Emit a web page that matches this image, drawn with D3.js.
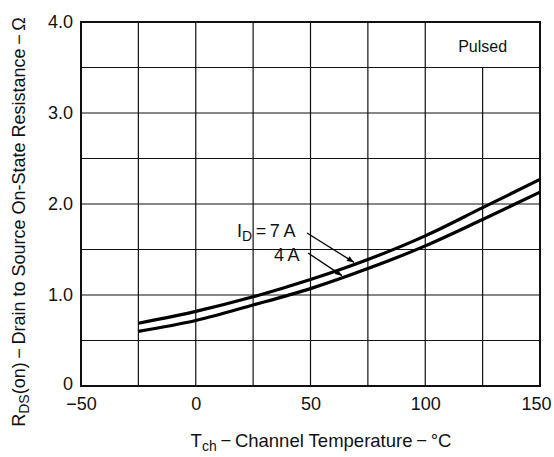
<!DOCTYPE html>
<html>
<head>
<meta charset="utf-8">
<script src="https://cdn.jsdelivr.net/npm/d3@7"></script>
<style>
  body { margin: 0; background: #fff; }
  svg text { font-family: "Liberation Sans", Arial, sans-serif; fill: #111; }
</style>
</head>
<body>
<svg id="chart" width="554" height="457"></svg>
<script>
// Channel temperature (°C) and on-state resistance (Ω)
const temps = [-25, 0, 25, 50, 75, 100, 125, 150];
const rds7A = [0.69, 0.82, 0.98, 1.17, 1.39, 1.65, 1.96, 2.27];
const rds4A = [0.60, 0.72, 0.89, 1.07, 1.29, 1.54, 1.83, 2.13];

const xTicks = [-50, 0, 50, 100, 150];
const yTicks = [0, 1, 2, 3, 4];
const yTickLabels = ["0", "1.0", "2.0", "3.0", "4.0"];

const svg = d3.select("#chart");
const M = { left: 81, right: 540, top: 22, bottom: 386 };

const x = d3.scaleLinear().domain([-50, 150]).range([M.left, M.right]);
const y = d3.scaleLinear().domain([0, 4]).range([M.bottom, M.top]);

// ── Grid ─────────────────────────────────────────
const grid = svg.append("g").attr("stroke", "#111").attr("stroke-width", 1.2);

d3.range(-25, 150, 25).forEach((t) => {
  grid.append("line")
    .attr("x1", x(t)).attr("x2", x(t))
    .attr("y1", t === 125 ? y(3.5) : y(4)).attr("y2", y(0));
});
d3.range(0.5, 4, 0.5).forEach((v) => {
  grid.append("line")
    .attr("x1", x(-50)).attr("x2", x(150))
    .attr("y1", y(v)).attr("y2", y(v));
});

// frame
svg.append("rect")
  .attr("x", x(-50)).attr("y", y(4))
  .attr("width", x(150) - x(-50)).attr("height", y(0) - y(4))
  .attr("fill", "none").attr("stroke", "#111").attr("stroke-width", 2);

// ── Axes ─────────────────────────────────────────
const xAxis = d3.axisBottom(x).tickValues(xTicks).tickSize(0).tickPadding(11)
  .tickFormat((d) => d < 0 ? "\u2212" + Math.abs(d) : d);
svg.append("g").attr("transform", `translate(0,${M.bottom})`).call(xAxis)
  .call((g) => g.select(".domain").remove())
  .selectAll("text").attr("font-size", 18).attr("fill", "#111")
  .attr("text-anchor", (d) => d === 150 ? "end" : "middle")
  .attr("dx", (d) => d === 150 ? 11 : 0)
  .style("font-family", "'Liberation Sans', Arial, sans-serif");

const yAxis = d3.axisLeft(y).tickValues(yTicks).tickSize(0).tickPadding(8)
  .tickFormat((d, i) => yTickLabels[i]);
svg.append("g").attr("transform", `translate(${M.left},0)`).call(yAxis)
  .call((g) => g.select(".domain").remove())
  .selectAll("text").attr("font-size", 18).attr("fill", "#111")
  .attr("dy", (d) => d === 0 ? "0.2em" : "0.32em")
  .style("font-family", "'Liberation Sans', Arial, sans-serif");

// ── Curves ───────────────────────────────────────
const line = d3.line()
  .x((d) => x(d[0]))
  .y((d) => y(d[1]))
  .curve(d3.curveMonotoneX);

[rds7A, rds4A].forEach((vals) => {
  svg.append("path")
    .datum(temps.map((t, i) => [t, vals[i]]))
    .attr("d", line)
    .attr("fill", "none")
    .attr("stroke", "#000")
    .attr("stroke-width", 3.2);
});

// ── Labels ───────────────────────────────────────
svg.append("text")
  .attr("x", x(125)).attr("y", 52)
  .attr("text-anchor", "middle").attr("font-size", 16)
  .text("Pulsed");

const lbl = svg.append("text").attr("x", 237).attr("y", 237).attr("font-size", 18);
lbl.append("tspan").text("I");
lbl.append("tspan").attr("font-size", 14).attr("dy", 4).text("D");
lbl.append("tspan").attr("dy", -4).text("\u2009=\u20097\u2009A");

svg.append("text").attr("x", 274).attr("y", 261).attr("font-size", 18).text("4\u2009A");

svg.append("defs").append("marker")
  .attr("id", "arrow")
  .attr("viewBox", "0 -5 10 10")
  .attr("refX", 10).attr("refY", 0)
  .attr("markerWidth", 9).attr("markerHeight", 7)
  .attr("markerUnits", "userSpaceOnUse")
  .attr("orient", "auto")
  .append("path")
  .attr("d", "M0,-4L10,0L0,4Z")
  .attr("fill", "#000");

// arrows point at the curves
const arrows = [
  { vals: rds7A, x1: 307, y1: 233, dx: 47 },
  { vals: rds4A, x1: 308, y1: 253, dx: 34 },
];
arrows.forEach((a) => {
  const t = x.invert(a.x1 + a.dx);
  const yy = y(d3.scaleLinear().domain(temps).range(a.vals)(t)) - 2;
  svg.append("line")
    .attr("x1", a.x1).attr("y1", a.y1)
    .attr("x2", x(t)).attr("y2", yy)
    .attr("stroke", "#000").attr("stroke-width", 1.3)
    .attr("marker-end", "url(#arrow)");
});

// x axis title
const xt = svg.append("text").attr("x", 321).attr("y", 447)
  .attr("text-anchor", "middle").attr("font-size", 18.5);
xt.append("tspan").text("T");
xt.append("tspan").attr("font-size", 14).attr("dy", 4).text("ch");
xt.append("tspan").attr("dy", -4).text("\u2009\u2212\u2009Channel Temperature\u2009\u2212\u2009\u00b0C");

// y axis title
const yt = svg.append("text")
  .attr("transform", "translate(25,222) rotate(-90)")
  .attr("text-anchor", "middle").attr("font-size", 18);
yt.append("tspan").text("R");
yt.append("tspan").attr("font-size", 14).attr("dy", 4).text("DS");
yt.append("tspan").attr("dy", -4).text("(on)\u2009\u2212\u2009Drain to Source On-State Resistance\u2009\u2212\u2009\u03a9");
</script>
</body>
</html>
